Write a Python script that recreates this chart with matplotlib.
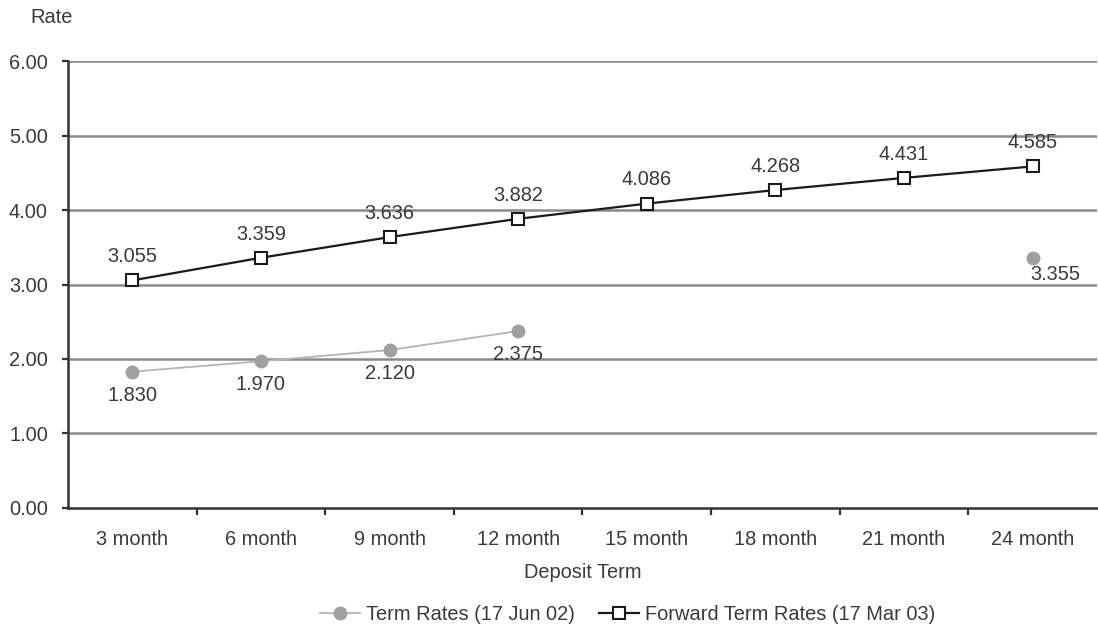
import numpy as np
import matplotlib.pyplot as plt

plt.rcParams['font.family'] = ['Liberation Sans', 'DejaVu Sans']

terms = ['3 month', '6 month', '9 month', '12 month',
         '15 month', '18 month', '21 month', '24 month']
term_rates = [1.830, 1.970, 2.120, 2.375, None, None, None, 3.355]
forward_rates = [3.055, 3.359, 3.636, 3.882, 4.086, 4.268, 4.431, 4.585]

x = np.arange(len(terms))
term_y = np.array([np.nan if v is None else v for v in term_rates])

FS = 14.4
TXT = '#3a3a3a'

fig = plt.figure(figsize=(10.98, 6.33), dpi=100)
ax = fig.add_axes([0.062, 0.1975, 0.937, 0.7061])

for yv in range(1, 7):
    ax.axhline(yv, color='#8a8a8a', lw=1.8, zorder=1)

ax.plot(x, term_y, color='#b4b4b4', lw=1.3, marker='o', ms=9,
        mfc='#a0a0a0', mec='#a0a0a0', zorder=3,
        label='Term Rates (17 Jun 02)')
ax.plot(x, forward_rates, color='#1a1a1a', lw=1.6, marker='s', ms=9,
        mfc='white', mec='#1a1a1a', mew=1.5, zorder=4,
        label='Forward Term Rates (17 Mar 03)')

for xi, v in zip(x, forward_rates):
    ax.annotate(f'{v:.3f}', (xi, v), xytext=(0, 17), textcoords='offset points',
                ha='center', va='center', fontsize=FS, color=TXT)
for xi, v in zip(x, term_rates):
    if v is None:
        continue
    if xi == len(terms) - 1:
        # lone 24 month point: label sits below and to the right
        off = (16, -11.5)
    else:
        off = (0, -17)
    ax.annotate(f'{v:.3f}', (xi, v), xytext=off, textcoords='offset points',
                ha='center', va='center', fontsize=FS, color=TXT)

ax.set_xlim(-0.5, len(terms) - 0.5)
ax.set_ylim(0, 6)
ax.set_yticks(np.arange(0, 7))
ax.set_yticklabels([f'{v:.2f}' for v in range(7)])
ax.set_xticks(x)
ax.set_xticklabels(terms)
ax.set_xticks(np.arange(0.5, len(terms) - 0.5), minor=True)
ax.tick_params(axis='x', which='major', length=0, pad=16, labelsize=FS, colors=TXT)
ax.tick_params(axis='x', which='minor', length=5, width=1.6, direction='out', color='#333333')
ax.tick_params(axis='y', length=4.5, width=1.6, labelsize=FS, colors=TXT, pad=10)
ax.tick_params(axis='y', color='#333333')

for side in ['top', 'right']:
    ax.spines[side].set_visible(False)
for side in ['left', 'bottom']:
    ax.spines[side].set_color('#333333')
    ax.spines[side].set_linewidth(1.8)

ax.set_xlabel('Deposit Term', fontsize=FS, color=TXT, labelpad=10)
fig.text(0.047, 0.972, 'Rate', ha='center', va='center', fontsize=FS, color=TXT)

fig.legend(loc='center', bbox_to_anchor=(0.572, 0.030), ncol=2, frameon=False,
           fontsize=FS, handlelength=2.0, columnspacing=1.2, handletextpad=0.3,
           labelcolor=TXT)

fig.savefig('out.png', dpi=100)
